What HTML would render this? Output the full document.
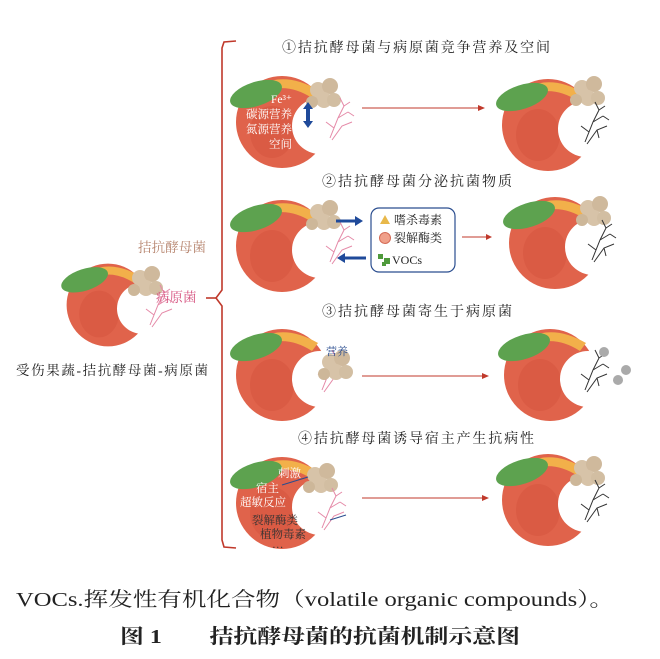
<!DOCTYPE html>
<html><head><meta charset="utf-8">
<style>
html,body{margin:0;padding:0;background:#fff;}
body{width:660px;height:659px;overflow:hidden;position:relative;font-family:"Liberation Serif","Noto Serif CJK SC",serif;}
svg{position:absolute;left:0;top:0;}
.t{font-family:"Liberation Serif","Noto Serif CJK SC",serif;}
</style></head><body>
<svg width="660" height="659" viewBox="0 0 660 659">
<defs>
<symbol id="peach" overflow="visible">
  <circle cx="0" cy="0" r="46" fill="#e0634b"/>
  <path d="M-20,-38 Q5,-50 36,-32 L30,-24 Q5,-40 -18,-30 Z" fill="#f2b04a"/>
  <ellipse cx="-10" cy="10" rx="22" ry="26" fill="#d4533e" opacity="0.5"/>
  <circle cx="38" cy="4" r="28" fill="#fff"/>
  <ellipse cx="-26" cy="-28" rx="27" ry="12" transform="rotate(-18 -26 -28)" fill="#5da24f"/>
</symbol>
<symbol id="yeast" overflow="visible">
  <circle cx="0" cy="0" r="8" fill="#d7c3a8"/><circle cx="12" cy="-4" r="8" fill="#cfb99c"/>
  <circle cx="6" cy="10" r="8" fill="#d7c3a8"/><circle cx="-6" cy="12" r="6" fill="#cdb799"/>
  <circle cx="16" cy="10" r="7" fill="#d2bea2"/>
</symbol>
<symbol id="path" overflow="visible">
  <g stroke="#e58aa8" stroke-width="1" fill="none">
  <path d="M0,20 L8,0 L14,-12 M8,0 L18,-6 M14,-12 L20,-16 M14,-12 L10,-20 M18,-6 L24,-2 M4,10 L-4,4"/>
  <path d="M2,22 L12,8 L22,4"/>
  </g>
</symbol>
<symbol id="dpath" overflow="visible">
  <g stroke="#333" stroke-width="1" fill="none">
  <path d="M0,20 L8,0 L14,-12 M8,0 L18,-6 M14,-12 L20,-16 M14,-12 L10,-20 M18,-6 L24,-2 M4,10 L-4,4"/>
  <path d="M2,22 L12,8 L22,4 M12,8 L14,16"/>
  </g>
</symbol>
</defs>

<path d="M236,41 L224,42 L222,48 L222,290 L216,298 L222,306 L222,540 L224,547 L236,548" stroke="#c0392b" stroke-width="1.6" fill="none"/>
<line x1="206" y1="298" x2="216" y2="298" stroke="#c0392b" stroke-width="1.6"/>

<g transform="translate(108,305) scale(0.9)"><use href="#peach"/></g>
<use href="#yeast" x="140" y="278"/>
<use href="#path" x="150" y="305"/>
<text x="138" y="252" font-size="13.5" fill="#b5826b" class="t" textLength="68">拮抗酵母菌</text>
<text x="156" y="302" font-size="13.5" fill="#d6527f" class="t">病原菌</text>
<text x="16" y="375" font-size="13.5" fill="#222" class="t" textLength="192">受伤果蔬-拮抗酵母菌-病原菌</text>

<g font-size="14" fill="#222" class="t">
<text x="282" y="52" textLength="268">①拮抗酵母菌与病原菌竞争营养及空间</text>
<text x="322" y="186" textLength="190">②拮抗酵母菌分泌抗菌物质</text>
<text x="322" y="316" textLength="190">③拮抗酵母菌寄生于病原菌</text>
<text x="298" y="443" textLength="236">④拮抗酵母菌诱导宿主产生抗病性</text>
</g>

<use href="#peach" x="282" y="122"/>
<use href="#yeast" x="318" y="90"/>
<use href="#path" x="330" y="118"/>
<g font-size="11.5" fill="#fff" class="t" text-anchor="end">
<text x="292" y="103">Fe³⁺</text>
<text x="292" y="118">碳源营养</text>
<text x="292" y="133">氮源营养</text>
<text x="292" y="148">空间</text>
</g>
<line x1="308" y1="108" x2="308" y2="122" stroke="#1f4a9a" stroke-width="4"/>
<path d="M303,109 L308,102 L313,109 Z M303,121 L308,128 L313,121 Z" fill="#1f4a9a"/>
<use href="#peach" x="548" y="125"/>
<use href="#yeast" x="582" y="88"/>
<use href="#dpath" x="585" y="122"/>

<use href="#peach" x="282" y="246"/>
<use href="#yeast" x="318" y="212"/>
<use href="#path" x="330" y="242"/>
<path d="M336,221 L356,221" stroke="#1f4a9a" stroke-width="3"/><path d="M355,216 L363,221 L355,226 Z" fill="#1f4a9a"/>
<path d="M344,258 L366,258" stroke="#1f4a9a" stroke-width="3"/><path d="M345,253 L337,258 L345,263 Z" fill="#1f4a9a"/>
<rect x="371" y="208" width="84" height="64" rx="8" fill="#fff" stroke="#2a4d8f" stroke-width="1.2"/>
<path d="M380,224 L385,215 L390,224 Z" fill="#e8b84a"/>
<circle cx="385" cy="238" r="5.5" fill="#f0a08a" stroke="#d46a55"/>
<rect x="378" y="254" width="5" height="5" fill="#4f9a3c"/><rect x="384" y="258" width="6" height="6" fill="#4f9a3c"/><rect x="382" y="262" width="4" height="4" fill="#4f9a3c"/>
<g font-size="12" fill="#222" class="t">
<text x="394" y="224">嗜杀毒素</text>
<text x="394" y="242">裂解酶类</text>
<text x="392" y="264">VOCs</text>
</g>
<line x1="462" y1="237" x2="490" y2="237" stroke="#c0392b" stroke-width="1"/>
<path d="M486,234 L492,237 L486,240 Z" fill="#c0392b"/>
<use href="#peach" x="555" y="243"/>
<use href="#yeast" x="588" y="208"/>
<use href="#dpath" x="592" y="240"/>

<use href="#peach" x="282" y="375"/>
<use href="#path" x="322" y="370"/>
<use href="#yeast" x="330" y="362"/>
<text x="326" y="355" font-size="11" fill="#2a4d8f" class="t">营养</text>
<use href="#peach" x="550" y="375"/>
<use href="#dpath" x="585" y="370"/>
<circle cx="604" cy="352" r="5" fill="#aaa"/><circle cx="626" cy="370" r="5" fill="#aaa"/><circle cx="618" cy="380" r="5" fill="#aaa"/>

<use href="#peach" x="282" y="503"/>
<use href="#yeast" x="315" y="475"/>
<use href="#path" x="322" y="508"/>
<g font-size="11.5" fill="#fff" class="t">
<text x="278" y="477">刺激</text>
<text x="256" y="492">宿主</text>
<text x="240" y="506">超敏反应</text>
</g>
<g font-size="11.5" fill="#333" class="t">
<text x="252" y="524">裂解酶类</text>
<text x="260" y="538">植物毒素</text>
<text x="272" y="548">…</text>
</g>
<line x1="282" y1="485" x2="308" y2="477" stroke="#2a4d8f"/>
<line x1="330" y1="520" x2="346" y2="515" stroke="#2a4d8f"/>
<use href="#peach" x="548" y="500"/>
<use href="#yeast" x="582" y="468"/>
<use href="#dpath" x="585" y="500"/>

<g stroke="#c0392b" stroke-width="1">
<line x1="362" y1="108" x2="480" y2="108"/>
<line x1="362" y1="376" x2="484" y2="376"/>
<line x1="362" y1="498" x2="484" y2="498"/>
</g>
<g fill="#c0392b">
<path d="M478,105 L485,108 L478,111 Z"/>
<path d="M482,373 L489,376 L482,379 Z"/>
<path d="M482,495 L489,498 L482,501 Z"/>
</g>

<text x="16" y="606" font-size="20" fill="#222" class="t" textLength="598" lengthAdjust="spacingAndGlyphs">VOCs.挥发性有机化合物（volatile organic compounds）。</text>
<text x="120" y="643" font-size="20" font-weight="bold" fill="#222" class="t" textLength="400" lengthAdjust="spacingAndGlyphs">图 1　　拮抗酵母菌的抗菌机制示意图</text>
</svg>
</body></html>
